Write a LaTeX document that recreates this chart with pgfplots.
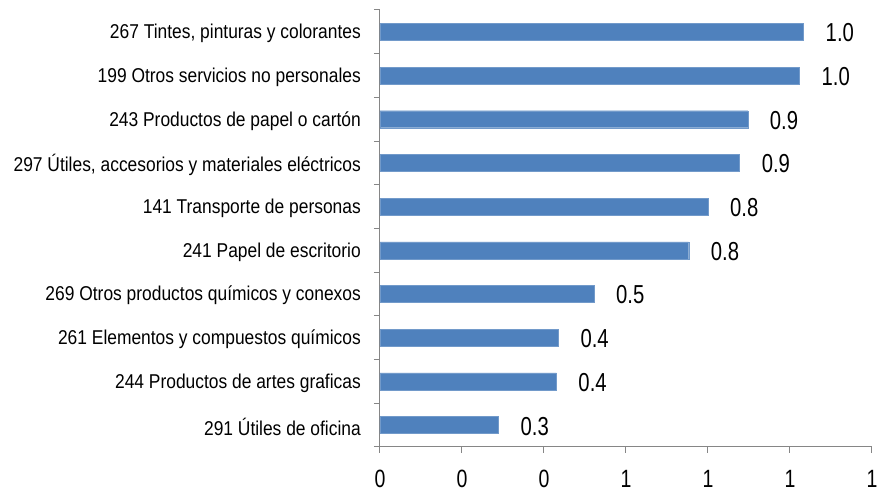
\documentclass[border=0pt]{standalone}
\usepackage{pgfplots}
\pgfplotsset{compat=1.18}
\usepackage{fontspec}
\setmainfont{Liberation Sans}
\newfontfamily\catfont[FakeStretch=0.87]{Liberation Sans}
\newfontfamily\numfont[FakeStretch=0.78]{Liberation Sans}
\definecolor{barblue}{HTML}{4F81BD}
\definecolor{axgray}{HTML}{868686}
\begin{document}
\begin{tikzpicture}
\useasboundingbox (-380pt,-45pt) rectangle (498pt,447pt);
\begin{axis}[
  at={(0pt,0pt)}, anchor=south west,
  scale only axis, width=492pt, height=437pt,
  xbar, bar width=17pt,
  xmin=0, xmax=1.2, ymin=-0.5, ymax=9.5,
  axis x line*=bottom, axis y line*=left,
  axis line style={axgray, line width=1pt},
  xtick={0,0.2,0.4,0.6,0.8,1,1.2},
  xticklabels={0,0,0,1,1,1,1},
  tick align=outside, major tick length=6pt,
  tick style={axgray, line width=1pt},
  xticklabel style={font=\numfont\fontsize{25}{25}\selectfont, inner sep=0pt, yshift=-17pt},
  ytick={-0.5,0.5,1.5,2.5,3.5,4.5,5.5,6.5,7.5,8.5,9.5},
  yticklabels={{291 Útiles de oficina}, {244 Productos de artes graficas}, {261 Elementos y compuestos químicos}, {269 Otros productos químicos y conexos}, {241 Papel de escritorio}, {141 Transporte de personas}, {297 Útiles, accesorios y materiales eléctricos}, {243 Productos de papel o cartón}, {199 Otros servicios no personales}, {267 Tintes, pinturas y colorantes}, {}},
  yticklabel style={font=\catfont\fontsize{20}{20}\selectfont, inner sep=0pt, yshift=20.3pt, xshift=-13pt},
  nodes near coords,
  point meta=x,
  nodes near coords style={anchor=west, inner sep=0pt, xshift=22pt, yshift=-1pt, text=black,
    font=\numfont\fontsize{26}{26}\selectfont,
    /pgf/number format/.cd, fixed, fixed zerofill, precision=1, assume math mode=true},
  /pgf/number format/assume math mode=true,
  clip=false,
]
\addplot[fill=barblue, draw=barblue!80!white] coordinates {
  (0.289,0) (0.430,1) (0.435,2) (0.522,3) (0.753,4)
  (0.800,5) (0.877,6) (0.897,7) (1.023,8) (1.033,9)
};
\end{axis}
\end{tikzpicture}
\end{document}
